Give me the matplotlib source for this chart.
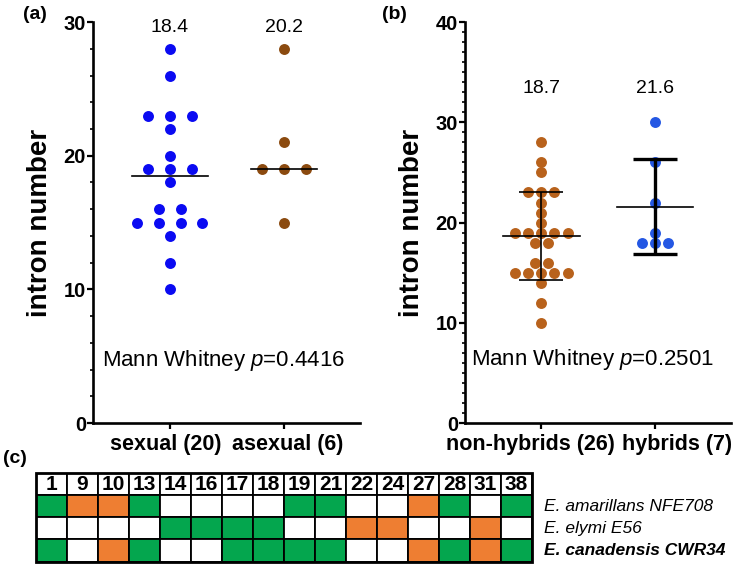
import numpy as np
import matplotlib
matplotlib.use('Agg')
import matplotlib.pyplot as plt
from matplotlib import patches
from matplotlib.ticker import MultipleLocator

plt.rcParams['font.family'] = ['Liberation Sans', 'DejaVu Sans']
plt.rcParams['mathtext.fontset'] = 'custom'
plt.rcParams['mathtext.rm'] = 'Liberation Sans'
plt.rcParams['mathtext.it'] = 'Liberation Sans:italic'

# panel (a): intron numbers per genome
sexual = [28, 26, 23, 23, 23, 22, 20, 19, 19, 19, 18, 16, 16, 15, 15, 15, 15, 14, 12, 10]
asexual = [28, 21, 19, 19, 19, 15]
labels_a = ['sexual (20)', 'asexual (6)']
p_a = '0.4416'

# panel (b)
non_hybrids = [28, 26, 25, 23, 23, 23, 22, 21, 20, 19, 19, 19, 19, 19, 18, 18,
               16, 16, 15, 15, 15, 15, 15, 14, 12, 10]
hybrids = [30, 26, 22, 19, 18, 18, 18]
labels_b = ['non-hybrids (26)', 'hybrids (7)']
p_b = '0.2501'

# panel (c): intron presence table
intron_ids = ['1', '9', '10', '13', '14', '16', '17', '18', '19', '21', '22', '24', '27', '28', '31', '38']
strains = ['E. amarillans NFE708', 'E. elymi E56', 'E. canadensis CWR34']
states = ['GOOGWWWWGGWWOGWG',
          'WWWWGGGGWWOOWWOW',
          'GWOGWWGGGGWWOGOG']

BLUE_A, BROWN_A = '#0a0af2', '#8b4a0f'
BROWN_B, BLUE_B = '#b8621c', '#2457e3'
cell_col = {'G': '#04a64e', 'O': '#ee7e32', 'W': 'white'}


def swarm_offsets(values, step):
    values = np.asarray(values)
    off = np.zeros(len(values))
    for v in np.unique(values):
        idx = np.where(values == v)[0]
        off[idx] = (np.arange(len(idx)) - (len(idx) - 1) / 2) * step
    return off


def style_axis(ax, ymax, minor, labels, label_x):
    for s in ['top', 'right']:
        ax.spines[s].set_visible(False)
    for s in ['left', 'bottom']:
        ax.spines[s].set_linewidth(1.9)
    ax.set_ylim(0, ymax)
    ax.yaxis.set_major_locator(MultipleLocator(10))
    ax.yaxis.set_minor_locator(MultipleLocator(minor))
    ax.set_xticks([0, 1])
    ax.set_xticklabels(['', ''])
    ax.tick_params(axis='both', which='major', length=4, width=1.6, labelsize=14.5, pad=1)
    ax.tick_params(axis='y', which='minor', length=2.5, width=1.2)
    for lab in ax.get_yticklabels():
        lab.set_fontweight('bold')
    # category labels sit a little off their ticks in the original
    for x, lab in zip(label_x, labels):
        ax.text(x, -0.054, lab, transform=ax.get_xaxis_transform(), ha='center', va='center',
                fontsize=15.5, fontweight='bold')
    ax.set_ylabel('intron number', fontsize=20, fontweight='bold', labelpad=8)


fig = plt.figure(figsize=(7.5, 5.76), dpi=100)

# ---- (a)
ax_a = fig.add_axes([0.124, 0.2656, 0.356, 0.696])
for i, (vals, col, hw) in enumerate([(sexual, BLUE_A, 0.33), (asexual, BROWN_A, 0.29)]):
    ax_a.scatter(i + swarm_offsets(vals, 0.19), vals, s=62, color=col, zorder=3, linewidths=0)
    ax_a.plot([i - hw, i + hw], [np.median(vals)] * 2, color='black', lw=1.2, zorder=4)
    ax_a.text(i, 29.6, '%.1f' % np.mean(vals), ha='center', va='center', fontsize=14, clip_on=False)
ax_a.set_xlim(-0.675, 1.667)
style_axis(ax_a, 30, 2, labels_a, [-0.04, 1.03])
ax_a.text(0.47, 4.7, 'Mann Whitney $p$=' + p_a, ha='center', va='center', fontsize=16)

# ---- (b)
ax_b = fig.add_axes([0.62, 0.2656, 0.354, 0.696])
for i, (vals, col, ew) in enumerate([(non_hybrids, BROWN_B, 1.2), (hybrids, BLUE_B, 2.4)]):
    ax_b.scatter(i + swarm_offsets(vals, 0.115), vals, s=62, color=col, zorder=3, linewidths=0)
    m, sd = np.mean(vals), np.std(vals, ddof=1)
    ax_b.plot([i - 0.335, i + 0.335], [m, m], color='black', lw=1.2, zorder=4)
    ax_b.errorbar(i, m, yerr=sd, fmt='none', ecolor='black', elinewidth=ew,
                  capsize=15.5, capthick=ew, zorder=4)
    ax_b.text(i, 33.4, '%.1f' % m, ha='center', va='center', fontsize=14)
ax_b.set_xlim(-0.67, 1.66)
style_axis(ax_b, 40, 1, labels_b, [-0.10, 1.19])
ax_b.text(0.45, 6.3, 'Mann Whitney $p$=' + p_b, ha='center', va='center', fontsize=16)

fig.text(0.047, 0.974, '(a)', fontsize=14, fontweight='bold', ha='center', va='center')
fig.text(0.526, 0.974, '(b)', fontsize=14, fontweight='bold', ha='center', va='center')
fig.text(0.02, 0.204, '(c)', fontsize=14, fontweight='bold', ha='center', va='center')

# ---- (c)
ax_c = fig.add_axes([0.048, 0.0248, 0.6613, 0.1545])
ax_c.set_xlim(0, len(intron_ids))
ax_c.set_ylim(len(strains) + 1, 0)
ax_c.axis('off')
for j, name in enumerate(intron_ids):
    ax_c.add_patch(patches.Rectangle((j, 0), 1, 1, facecolor='white', edgecolor='black', lw=1.3))
    ax_c.text(j + 0.5, 0.53, name, ha='center', va='center', fontsize=15, fontweight='bold')
    for r, row in enumerate(states):
        ax_c.add_patch(patches.Rectangle((j, r + 1), 1, 1, facecolor=cell_col[row[j]],
                                         edgecolor='black', lw=1.3))
ax_c.add_patch(patches.Rectangle((0, 0), len(intron_ids), len(strains) + 1, fill=False,
                                 edgecolor='black', lw=2, clip_on=False))
for r, name in enumerate(strains):
    ax_c.text(len(intron_ids) + 0.4, r + 1.5, name, ha='left', va='center', fontsize=12.5,
              fontstyle='italic', fontweight='bold' if r == 2 else 'normal', clip_on=False)

fig.savefig('out.png', dpi=100)
